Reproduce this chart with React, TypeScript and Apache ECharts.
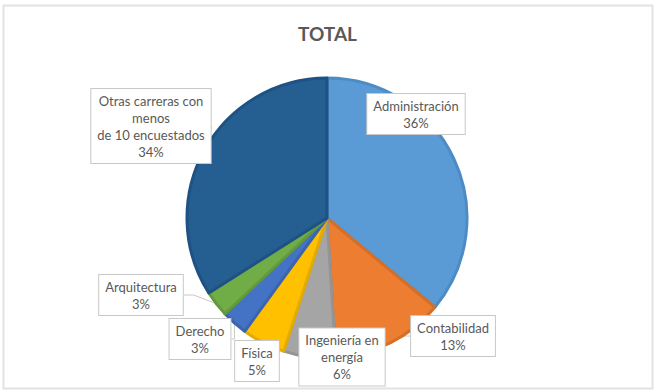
import React, { useEffect, useRef } from "react";
import * as echarts from "echarts";

const categories = [
  "Administración",
  "Contabilidad",
  "Ingeniería en\nenergía",
  "Física",
  "Derecho",
  "Arquitectura",
  "Otras carreras con\nmenos\nde 10 encuestados",
];
const values = [36, 13, 6, 5, 3, 3, 34];
const colors = ["#5B9BD5", "#ED7D31", "#A5A5A5", "#FFC000", "#4472C4", "#70AD47", "#255E91"];
const borderColors = ["#4D8BC4", "#D56E28", "#949494", "#E3AB00", "#3A64AE", "#62993D", "#1F5284"];
const labelCenters: [number, number][] = [
  [416, 114],
  [453, 336],
  [342, 357],
  [257, 361],
  [200, 339],
  [141, 295],
  [151, 126],
];

export default function App() {
  const ref = useRef<HTMLDivElement>(null);
  useEffect(() => {
    document.body.style.margin = "0";
    const chart = echarts.init(ref.current!, null, { renderer: "svg" });
    chart.setOption({
      animation: false,
      backgroundColor: "#ffffff",
      title: {
        text: "TOTAL",
        left: "center",
        top: 19,
        textStyle: { fontFamily: "Lato", fontSize: 19, fontWeight: "bold", color: "#595959" },
      },
      graphic: [
        {
          type: "rect",
          shape: { x: 3.5, y: 5.5, width: 649, height: 383 },
          style: { fill: "none", stroke: "#e2e2e2", lineWidth: 2 },
          silent: true,
        },
      ],
      series: [
        {
          type: "pie",
          center: [327, 218],
          radius: 140,
          startAngle: 90,
          clockwise: true,
          data: categories.map((c, i) => ({
            name: c,
            value: values[i],
            itemStyle: { color: colors[i], borderColor: borderColors[i], borderWidth: 3 },
          })),
          label: {
            show: true,
            formatter: (p: any) => `${p.name}\n${p.value}%`,
            fontFamily: "Lato",
            fontSize: 13,
            lineHeight: 17,
            color: "#595959",
            align: "center",
            backgroundColor: "#ffffff",
            borderColor: "#c8c8c8",
            borderWidth: 1,
            padding: [3, 6, 3, 6],
          },
          labelLine: {
            show: true,
            length: 10,
            length2: 10,
            lineStyle: { color: "#c8c8c8", width: 1 },
          },
          labelLayout: (params: any) => {
            const c = labelCenters[params.dataIndex];
            return {
              x: c[0],
              y: c[1],
              align: "center",
              verticalAlign: "middle",
            };
          },
        },
      ],
    });
    return () => chart.dispose();
  }, []);
  return <div ref={ref} style={{ width: 655, height: 391 }} />;
}
